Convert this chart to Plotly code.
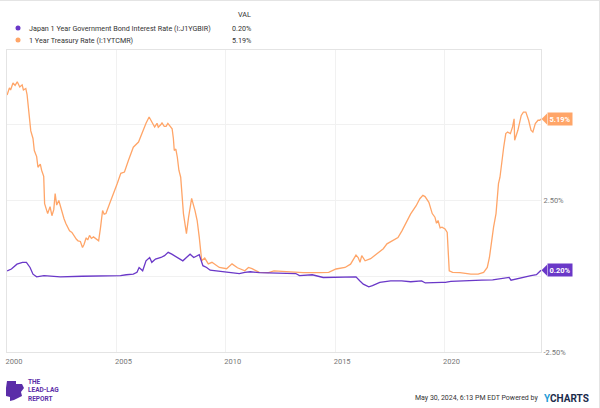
import plotly.graph_objects as go

# ---------------- data ----------------
us_dates = ["2000-01-03","2000-02-10","2000-03-01","2000-04-10","2000-05-15","2000-06-20","2000-08-01",
 "2000-09-10","2000-10-01","2000-11-10","2000-12-01",
 "2001-01-05","2001-02-01","2001-03-10","2001-04-01","2001-05-10","2001-06-01","2001-07-10","2001-08-01",
 "2001-09-05","2001-09-20","2001-11-10","2001-12-20","2002-01-20","2002-02-20",
 "2002-03-15","2002-04-10","2002-05-15","2002-06-10","2002-07-10","2002-08-10","2002-09-10","2002-10-10",
 "2002-11-10","2002-12-20","2003-02-01","2003-03-05","2003-04-01","2003-05-10",
 "2003-06-15","2003-07-10","2003-08-15","2003-09-10","2003-10-10","2003-11-10","2003-12-15",
 "2004-01-20","2004-03-10","2004-04-10","2004-05-15","2004-06-10","2004-07-10",
 "2004-09-10","2004-11-15","2005-01-15","2005-03-15","2005-05-15","2005-07-20","2005-10-10",
 "2006-01-05","2006-03-01","2006-05-10","2006-07-01","2006-08-15","2006-09-10","2006-10-01",
 "2006-11-10","2006-12-01","2007-01-10",
 "2007-02-01","2007-03-10","2007-04-10","2007-05-10","2007-06-10","2007-07-20","2007-08-10",
 "2007-08-25","2007-09-20","2007-10-15","2007-11-10","2007-12-10",
 "2008-01-25","2008-03-15","2008-04-20","2008-06-10","2008-08-05","2008-09-10","2008-10-15",
 "2008-11-25","2009-01-15","2009-03-15","2009-05-15","2009-09-15","2010-01-15","2010-04-15",
 "2010-07-15","2010-11-15","2011-01-15","2011-03-15","2011-07-15","2011-12-15","2012-03-15",
 "2012-11-15","2013-07-15","2014-04-15","2014-09-15","2015-01-15","2015-03-15","2015-06-15",
 "2015-09-15","2015-10-20","2015-12-15","2016-01-20","2016-02-20","2016-03-20","2016-05-15",
 "2016-08-15","2016-10-20","2017-01-15","2017-03-15","2017-05-15","2017-08-15","2017-11-15",
 "2018-01-20","2018-04-15","2018-06-15","2018-09-15","2018-11-15","2019-01-05","2019-02-10",
 "2019-04-15","2019-06-10","2019-07-25","2019-08-20","2019-09-15","2019-10-20","2019-11-20",
 "2020-01-10","2020-02-15","2020-03-05",
 "2020-03-20","2020-05-15","2020-09-15","2021-03-15","2021-07-15","2021-10-15","2021-12-15",
 "2022-01-20","2022-02-25","2022-03-30","2022-05-10","2022-06-01","2022-06-20","2022-07-15",
 "2022-08-15","2022-09-15","2022-10-20","2022-11-20","2023-01-05","2023-02-10","2023-03-08",
 "2023-03-17","2023-05-10","2023-07-05","2023-08-10","2023-09-20","2023-11-05","2023-12-15",
 "2024-01-15","2024-02-25","2024-04-10","2024-05-10","2024-05-30"]
us_vals = [5.98,6.22,6.15,6.38,6.3,6.42,6.25,
 6.32,6.15,6.2,6.0,
 5.2,4.8,4.55,4.15,3.95,3.6,3.7,3.5,
 3.3,2.4,2.07,2.3,2.0,2.2,
 2.73,2.35,2.5,2.3,2.1,1.9,1.74,1.6,
 1.5,1.45,1.3,1.22,1.17,1.15,
 0.95,1.05,1.27,1.2,1.35,1.25,1.3,
 1.25,1.17,1.6,2.17,2.05,2.07,
 2.4,2.73,3.06,3.4,3.44,3.82,4.26,
 4.43,4.72,5.05,5.26,5.09,4.98,4.93,
 5.05,4.92,5.0,
 5.06,4.95,4.95,5.05,4.98,4.87,4.55,
 4.15,4.2,3.93,3.5,3.27,
 2.07,1.41,1.95,2.57,2.17,1.84,1.29,
 0.51,0.6,0.41,0.46,0.29,0.25,0.41,
 0.28,0.18,0.29,0.25,0.13,0.12,0.18,
 0.15,0.12,0.12,0.13,0.24,0.25,0.29,
 0.4,0.51,0.7,0.62,0.46,0.68,0.51,
 0.58,0.68,0.79,0.91,1.07,1.17,1.28,
 1.5,1.84,2.06,2.33,2.56,2.67,2.63,
 2.44,2.07,1.95,1.75,1.84,1.6,1.62,
 1.56,1.45,0.62,
 0.18,0.13,0.12,0.07,0.07,0.13,0.29,
 0.62,1.17,1.62,2.07,2.5,3.06,3.27,
 3.82,4.26,4.71,4.76,4.71,4.93,5.2,
 4.49,4.82,5.31,5.42,5.42,5.15,4.82,
 4.76,5.04,5.15,5.15,5.19]

jp_dates = ["2000-01-03","2000-03-15","2000-06-15","2000-09-15","2000-11-20","2001-01-20",
 "2001-03-10","2001-05-10","2001-09-10","2002-06-10","2003-06-10","2004-06-10","2005-03-10",
 "2005-06-15","2005-10-10","2005-12-10","2006-01-15","2006-03-15","2006-05-10","2006-07-10",
 "2006-08-15","2006-10-15","2007-01-15","2007-03-15","2007-05-15","2007-07-15","2007-10-15",
 "2008-01-15","2008-03-15","2008-05-15","2008-07-15","2008-10-15","2008-12-15","2009-02-15",
 "2009-04-15","2009-07-15","2010-01-15","2010-05-15","2010-08-15","2010-11-15","2011-02-15",
 "2011-07-15","2012-06-15","2013-03-15","2013-05-15","2013-12-15","2014-06-15","2015-01-15",
 "2015-12-15","2016-02-15","2016-04-15","2016-07-15","2016-09-15","2017-01-15","2017-05-15",
 "2017-07-15","2018-01-15","2018-06-15","2018-12-15","2019-02-15","2019-11-15","2020-01-15",
 "2020-04-15","2020-10-15","2021-03-15","2021-09-15","2022-03-15","2022-12-15","2023-01-15",
 "2023-07-15","2023-12-15","2024-03-15","2024-04-20","2024-05-30"]
jp_vals = [0.18,0.24,0.4,0.46,0.46,0.29,
 0.07,-0.02,0.02,-0.02,0.0,0.0,0.02,
 0.05,0.07,0.13,0.29,0.18,0.51,0.62,
 0.46,0.57,0.62,0.68,0.79,0.73,0.62,
 0.51,0.62,0.73,0.62,0.71,0.35,0.29,
 0.2,0.18,0.15,0.13,0.09,0.13,0.15,
 0.12,0.09,0.09,0.02,0.05,-0.04,-0.04,
 -0.02,-0.15,-0.26,-0.35,-0.31,-0.2,-0.17,
 -0.15,-0.15,-0.18,-0.15,-0.22,-0.2,-0.2,
 -0.17,-0.15,-0.13,-0.13,-0.12,-0.04,-0.13,
 -0.04,0.02,0.05,0.13,0.2]

us_name = "1 Year Treasury Rate (I:1YTCMR)"
jp_name = "Japan 1 Year Government Bond Interest Rate (I:J1YGBIR)"
y_ticks = [-2.5, 0, 2.5, 5]
y_ticktext = ["-2.50%", "", "2.50%", ""]
x_ticks = ["2000-01-01", "2005-01-01", "2010-01-01", "2015-01-01", "2020-01-01"]
x_ticktext = ["2000", "2005", "2010", "2015", "2020"]

ORANGE = "#FFA568"
PURPLE = "#6A38C8"

# ---------------- layout geometry ----------------
W, H = 600, 408
L, R, T, B = 7, 541, 50, 352
PW, PH = R - L, B - T

def px_x(px):
    return (px - L) / PW

def px_y(py):
    return (B - py) / PH

fig = go.Figure()
fig.add_trace(go.Scatter(x=us_dates, y=us_vals, mode="lines", name=us_name,
                         line=dict(color=ORANGE, width=1.3), hoverinfo="skip"))
fig.add_trace(go.Scatter(x=jp_dates, y=jp_vals, mode="lines", name=jp_name,
                         line=dict(color=PURPLE, width=1.3), hoverinfo="skip"))

fig.update_layout(
    width=W, height=H, showlegend=False,
    margin=dict(l=L, r=W - R, t=T, b=H - B),
    paper_bgcolor="white", plot_bgcolor="white",
    font=dict(family="Roboto", color="#666"),
    xaxis=dict(range=["2000-01-01", "2024-05-30"], tickvals=x_ticks, ticktext=x_ticktext,
               showgrid=True, gridcolor="#f1f1f1", gridwidth=1, zeroline=False,
               showline=True, linecolor="#e4e4e4", linewidth=1, mirror=True,
               ticks="", tickfont=dict(size=7.5, color="#777"), ticklabelshift=7,
               ticklabelstandoff=2),
    yaxis=dict(range=[-2.5, 7.47], side="right", tickvals=y_ticks, ticktext=y_ticktext,
               showgrid=True, gridcolor="#f1f1f1", gridwidth=1, zeroline=False,
               showline=True, linecolor="#e4e4e4", linewidth=1, mirror=True,
               ticks="", tickfont=dict(size=7.5, color="#777"), ticklabelstandoff=0),
)

ann = []
shapes = []
# legend
LF = 7.2
for (py, color, name, val) in [(28, PURPLE, jp_name, "0.20%"), (40, ORANGE, us_name, "5.19%")]:
    shapes.append(dict(type="circle", xref="paper", yref="paper",
                       x0=px_x(15.5), x1=px_x(20.5), y0=px_y(py + 2.5), y1=px_y(py - 2.5),
                       fillcolor=color, line=dict(width=0)))
    ann.append(dict(text=name, xref="paper", yref="paper", x=px_x(27), y=px_y(py),
                    xanchor="left", yanchor="middle", showarrow=False,
                    font=dict(size=LF, color="#333", family="Roboto")))
    ann.append(dict(text=val, xref="paper", yref="paper", x=px_x(253), y=px_y(py),
                    xanchor="right", yanchor="middle", showarrow=False,
                    font=dict(size=LF, color="#333", family="Roboto")))
ann.append(dict(text="VAL", xref="paper", yref="paper", x=px_x(253), y=px_y(15),
                xanchor="right", yanchor="middle", showarrow=False,
                font=dict(size=LF, color="#333", family="Roboto")))

# value tags
for val, color in [(us_vals[-1], ORANGE), (jp_vals[-1], PURPLE)]:
    ann.append(dict(text="<b>%.2f%%</b>" % val, xref="paper", yref="y", x=px_x(546.5), y=val,
                    xanchor="left", yanchor="middle", showarrow=False, bgcolor=color,
                    borderpad=1.5, font=dict(size=7.5, color="white", family="Roboto")))
    d = 5.5 / (PH / 9.97)
    shapes.append(dict(type="path", xref="paper", yref="y",
                       path="M %f,%f L %f,%f L %f,%f Z" % (px_x(541.5), val, px_x(547), val + d,
                                                           px_x(547), val - d),
                       fillcolor=color, line=dict(width=0)))

# outer frame (top and right)
shapes.append(dict(type="line", xref="paper", yref="paper", x0=px_x(0), x1=px_x(600),
                   y0=px_y(0.5), y1=px_y(0.5), line=dict(color="#e4e4e4", width=1)))
shapes.append(dict(type="line", xref="paper", yref="paper", x0=px_x(599.5), x1=px_x(599.5),
                   y0=px_y(0), y1=px_y(408), line=dict(color="#e4e4e4", width=1)))

# footer: logo
logo = [(7, 381), (16, 381), (16, 384), (22, 384), (24, 388), (21, 392), (22, 396), (18, 398),
        (14, 400), (10, 401), (10, 397), (6, 396), (6, 388)]
path = "M " + " L ".join("%f,%f" % (px_x(a), px_y(b)) for a, b in logo) + " Z"
shapes.append(dict(type="path", xref="paper", yref="paper", path=path,
                   fillcolor="#5B2DA8", line=dict(width=0)))
ann.append(dict(text="<b>THE<br>LEAD-LAG<br>REPORT</b>", xref="paper", yref="paper",
                x=px_x(26), y=px_y(390), xanchor="left", yanchor="middle", align="left",
                showarrow=False, font=dict(size=6.5, color="#5B2DA8", family="Roboto")))
# footer: timestamp
ann.append(dict(text="May 30, 2024, 6:13 PM EDT Powered by", xref="paper", yref="paper",
                x=px_x(540), y=px_y(398), xanchor="right", yanchor="middle", showarrow=False,
                font=dict(size=7, color="#333", family="Roboto")))
ann.append(dict(text="<b><span style='color:#1E9BD7'>Y</span><span style='color:#1B2B4B'>CHARTS</span></b>",
                xref="paper", yref="paper", x=px_x(542), y=px_y(398), xanchor="left",
                yanchor="middle", showarrow=False,
                font=dict(size=10, color="#1B2B4B", family="Roboto")))

fig.update_layout(annotations=ann, shapes=shapes)
fig.write_html("out.html")
